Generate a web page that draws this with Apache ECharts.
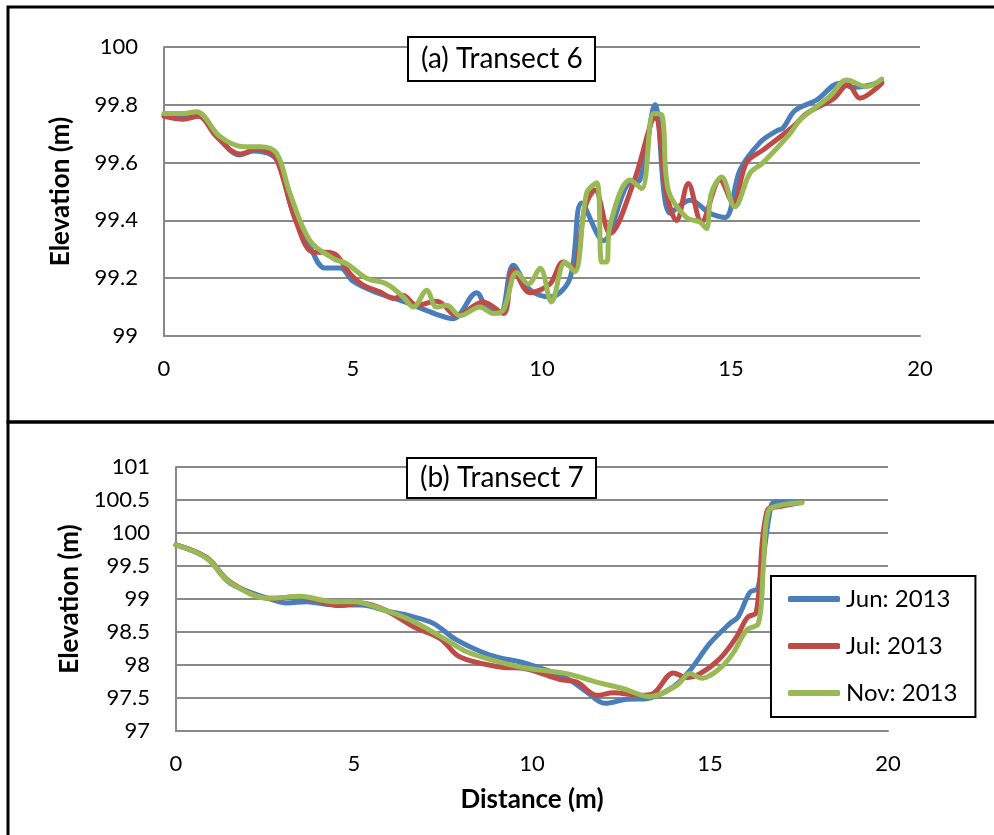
<!DOCTYPE html>
<html>
<head>
<meta charset="utf-8">
<script src="https://cdn.jsdelivr.net/npm/echarts@6/dist/echarts.min.js"></script>
<style>
  html, body { margin: 0; padding: 0; background: #fff; }
  #chart { width: 994px; height: 835px; }
</style>
</head>
<body>
<div id="chart"></div>
<script>
// Transect 6 profiles: [distance (m), elevation (m)]
const jun6 = [[0, 99.765], [0.5, 99.765], [0.86, 99.77], [1.39, 99.695], [2.0, 99.626], [2.36, 99.64], [2.85, 99.626], [3.07, 99.586], [3.43, 99.42], [3.86, 99.31], [4.25, 99.235], [4.66, 99.235], [5.0, 99.19], [5.63, 99.15], [6.33, 99.12], [7.21, 99.075], [7.65, 99.06], [8.27, 99.15], [8.53, 99.10], [8.89, 99.08], [9.24, 99.245], [9.68, 99.16], [10.21, 99.135], [10.74, 99.2], [11.05, 99.46], [11.62, 99.33], [12.24, 99.52], [12.59, 99.54], [12.99, 99.80], [13.39, 99.425], [13.92, 99.47], [14.44, 99.425], [14.84, 99.41], [15.24, 99.575], [15.77, 99.67], [16.21, 99.71], [16.38, 99.72], [16.69, 99.78], [17.27, 99.817], [17.88, 99.875], [18.24, 99.86], [18.99, 99.88]];
const jul6 = [[0, 99.76], [0.51, 99.75], [0.91, 99.76], [1.39, 99.69], [2.01, 99.63], [2.45, 99.646], [2.89, 99.626], [3.07, 99.58], [3.51, 99.39], [3.95, 99.29], [4.30, 99.29], [4.56, 99.28], [4.92, 99.216], [5.27, 99.176], [5.71, 99.153], [6.07, 99.13], [6.33, 99.14], [6.68, 99.106], [7.21, 99.12], [7.38, 99.11], [7.74, 99.07], [8.44, 99.118], [8.98, 99.078], [9.24, 99.23], [9.68, 99.15], [10.21, 99.18], [10.56, 99.256], [10.83, 99.234], [11.14, 99.447], [11.40, 99.505], [11.80, 99.355], [12.42, 99.53], [12.99, 99.754], [13.30, 99.49], [13.56, 99.40], [13.87, 99.528], [14.22, 99.395], [14.71, 99.54], [15.06, 99.46], [15.41, 99.6], [15.85, 99.644], [16.64, 99.724], [17.0, 99.77], [17.7, 99.82], [18.1, 99.87], [18.41, 99.823], [18.99, 99.875]];
const nov6 = [[0, 99.77], [0.51, 99.77], [0.86, 99.776], [1.48, 99.69], [2.10, 99.655], [2.54, 99.655], [2.98, 99.632], [3.33, 99.494], [3.86, 99.33], [4.48, 99.268], [4.83, 99.25], [5.36, 99.2], [5.89, 99.18], [6.33, 99.135], [6.60, 99.10], [6.95, 99.158], [7.21, 99.10], [7.48, 99.106], [7.83, 99.07], [8.36, 99.10], [8.71, 99.078], [8.98, 99.09], [9.33, 99.22], [9.64, 99.18], [9.95, 99.234], [10.25, 99.118], [10.61, 99.256], [10.87, 99.222], [11.18, 99.494], [11.45, 99.53], [11.58, 99.256], [11.71, 99.256], [11.80, 99.384], [12.33, 99.54], [12.64, 99.51], [12.95, 99.77], [13.17, 99.765], [13.34, 99.505], [13.82, 99.41], [14.17, 99.395], [14.35, 99.372], [14.48, 99.494], [14.75, 99.55], [15.1, 99.447], [15.50, 99.563], [15.85, 99.6], [16.56, 99.70], [16.83, 99.748], [17.62, 99.83], [18.06, 99.886], [18.59, 99.863], [18.99, 99.889]];

// Transect 7 profiles: [distance (m), elevation (m)]
const jun7 = [[0, 99.82], [0.86, 99.62], [1.52, 99.24], [2.64, 99.0], [3.11, 98.94], [3.67, 98.96], [4.42, 98.91], [5.2, 98.91], [5.92, 98.82], [6.67, 98.73], [7.23, 98.63], [7.88, 98.38], [8.82, 98.15], [9.85, 98.02], [10.97, 97.80], [11.54, 97.59], [12.05, 97.42], [12.66, 97.48], [13.22, 97.49], [13.97, 97.67], [14.44, 97.92], [15.0, 98.33], [15.56, 98.63], [15.79, 98.73], [16.12, 99.1], [16.35, 99.17], [16.72, 100.42], [16.9, 100.47], [17.58, 100.47]];
const jul7 = [[0, 99.82], [0.86, 99.63], [1.52, 99.26], [2.64, 99.01], [3.48, 99.03], [4.61, 98.9], [5.2, 98.94], [5.92, 98.82], [6.67, 98.58], [7.42, 98.40], [7.98, 98.12], [9.1, 97.97], [9.85, 97.94], [10.79, 97.78], [11.26, 97.74], [11.82, 97.54], [12.29, 97.58], [13.03, 97.54], [13.41, 97.57], [13.97, 97.88], [14.34, 97.81], [14.72, 97.87], [15.28, 98.10], [15.75, 98.43], [16.05, 98.72], [16.3, 98.8], [16.6, 100.33], [17.06, 100.41], [17.58, 100.46]];
const nov7 = [[0, 99.82], [0.86, 99.62], [1.52, 99.25], [2.64, 99.01], [3.48, 99.04], [4.42, 98.96], [4.98, 98.96], [5.92, 98.82], [6.67, 98.66], [7.6, 98.38], [8.17, 98.2], [8.91, 98.07], [9.85, 97.95], [10.97, 97.87], [11.82, 97.74], [12.57, 97.64], [13.31, 97.52], [14.06, 97.69], [14.44, 97.87], [14.77, 97.80], [15.28, 97.95], [15.65, 98.18], [16.03, 98.53], [16.36, 98.63], [16.5, 99.49], [16.64, 100.33], [17.06, 100.43], [17.58, 100.46]];

const seriesNames = ['Jun: 2013', 'Jul: 2013', 'Nov: 2013'];
const seriesColors = ['#4A7EBB', '#BE4B48', '#98B954'];
const panelTitles = ['(a) Transect 6', '(b) Transect 7'];
const xAxisTitle = 'Distance (m)';
const yAxisTitle = 'Elevation (m)';

const FONT = 'Lato, "Open Sans", sans-serif';
const gridColor = '#898989';

function yAxisFor(gridIndex, min, max, interval) {
  return {
    type: 'value', gridIndex, min, max, interval,
    name: yAxisTitle, nameLocation: 'middle', nameGap: 90,
    nameTextStyle: { fontFamily: FONT, fontWeight: 'bold', fontSize: 26, color: '#000' },
    axisLine: { show: true, lineStyle: { color: gridColor, width: 2 } },
    axisTick: { show: false },
    axisLabel: { fontFamily: FONT, fontSize: 22, color: '#000', margin: 26 },
    splitLine: { show: true, lineStyle: { color: gridColor, width: 2 } }
  };
}
function xAxisFor(gridIndex, withName) {
  const ax = {
    type: 'value', gridIndex, min: 0, max: 20, interval: 5,
    axisLine: { show: true, lineStyle: { color: gridColor, width: 2 } },
    axisTick: { show: false },
    axisLabel: { fontFamily: FONT, fontSize: 22, color: '#000', margin: 22 },
    splitLine: { show: false }
  };
  if (withName) {
    ax.name = xAxisTitle;
    ax.nameLocation = 'middle';
    ax.nameGap = 56;
    ax.nameTextStyle = { fontFamily: FONT, fontWeight: 'bold', fontSize: 26, color: '#000' };
  }
  return ax;
}
function lineSeries(i, data, xi, yi) {
  return {
    type: 'line', name: seriesNames[i], data, xAxisIndex: xi, yAxisIndex: yi,
    smooth: 0.35, showSymbol: false, symbol: 'none',
    lineStyle: { color: seriesColors[i], width: 5, cap: 'round', join: 'round' },
    itemStyle: { color: seriesColors[i] },
    z: 3 + i
  };
}

const chart = echarts.init(document.getElementById('chart'), null, { renderer: 'canvas' });
chart.setOption({
  animation: false,
  backgroundColor: '#fff',
  textStyle: { fontFamily: FONT },
  graphic: [
    { type: 'rect', shape: { x: 8, y: 7, width: 1000, height: 415 }, style: { fill: 'none', stroke: '#000', lineWidth: 3 }, z: 0 },
    { type: 'rect', shape: { x: 8, y: 422, width: 1000, height: 420 }, style: { fill: 'none', stroke: '#000', lineWidth: 3 }, z: 0 }
  ],
  title: [
    { text: panelTitles[0], left: 408, top: 37, padding: [8, 13, 8, 13], borderColor: '#000', borderWidth: 2, backgroundColor: '#fff',
      textStyle: { fontFamily: FONT, fontWeight: 'normal', fontSize: 28, color: '#000' } },
    { text: panelTitles[1], left: 407, top: 458, padding: [6, 13, 6, 13], borderColor: '#000', borderWidth: 2, backgroundColor: '#fff',
      textStyle: { fontFamily: FONT, fontWeight: 'normal', fontSize: 28, color: '#000' } }
  ],
  legend: {
    data: seriesNames.map((n, i) => ({ name: n, icon: 'roundRect', itemStyle: { color: seriesColors[i] } })),
    orient: 'vertical', left: 771, top: 576,
    width: 200,
    padding: [11, 18, 12, 17],
    itemWidth: 52, itemHeight: 6, itemGap: 23,
    borderColor: '#000', borderWidth: 2, backgroundColor: '#fff',
    textStyle: { fontFamily: FONT, fontSize: 24, color: '#000', padding: [0, 0, 0, 1] },
    selectedMode: false
  },
  grid: [
    { left: 164, right: 74, top: 47, bottom: 499, containLabel: false },
    { left: 176, right: 106, top: 467, bottom: 104, containLabel: false }
  ],
  xAxis: [xAxisFor(0, false), xAxisFor(1, true)],
  yAxis: [yAxisFor(0, 99, 100, 0.2), yAxisFor(1, 97, 101, 0.5)],
  series: [
    lineSeries(0, jun6, 0, 0), lineSeries(1, jul6, 0, 0), lineSeries(2, nov6, 0, 0),
    lineSeries(0, jun7, 1, 1), lineSeries(1, jul7, 1, 1), lineSeries(2, nov7, 1, 1)
  ]
});
</script>
</body>
</html>
